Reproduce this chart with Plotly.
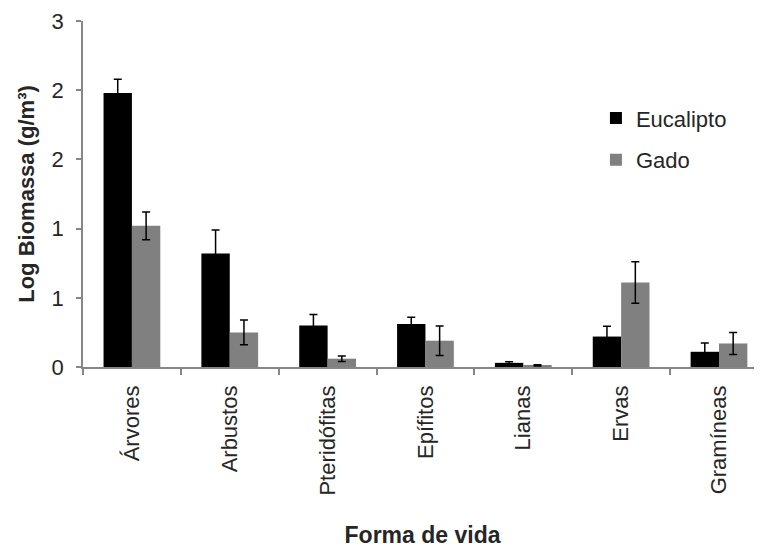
import plotly.graph_objects as go

categories = ["Árvores", "Arbustos", "Pteridófitas", "Epífitos", "Lianas", "Ervas", "Gramíneas"]
eucalipto = [1.98, 0.82, 0.30, 0.31, 0.03, 0.22, 0.11]
eucalipto_err = [0.10, 0.17, 0.08, 0.05, 0.008, 0.075, 0.063]
gado = [1.02, 0.25, 0.06, 0.19, 0.012, 0.61, 0.17]
gado_err = [0.10, 0.09, 0.02, 0.107, 0.004, 0.15, 0.08]
y_tickvals = [0, 0.5, 1.0, 1.5, 2.0, 2.5]
y_ticktext = ["0", "1", "1", "2", "2", "3"]

FONT = "Liberation Sans, Arial, sans-serif"
TXT = "#262626"
AX = "#868686"
W, H = 762, 548
OFF = 8  # page body margin offset
L = 83.3 - OFF
T = 20.5 - OFF
plot_bottom = 367.5 - OFF
B = H - plot_bottom
R = OFF
plot_w = W - R - L
plot_h = plot_bottom - T
cat_w = 97.8
xmax = -0.5 + plot_w / cat_w

fig = go.Figure()
fig.add_trace(go.Bar(
    name="Eucalipto", x=categories, y=eucalipto, legendgroup="e",
    marker=dict(color="#000000", line=dict(width=0)),
    error_y=dict(type="data", array=eucalipto_err, color="#000000", thickness=1.5, width=4),
))
fig.add_trace(go.Bar(
    name="Gado", x=categories, y=gado, legendgroup="g",
    marker=dict(color="#808080", line=dict(width=0)),
    error_y=dict(type="data", array=gado_err, color="#000000", thickness=1.5, width=4),
))

legend_left = 596 - OFF
legend_top = 97 - OFF

fig.update_layout(
    width=W, height=H,
    margin=dict(l=L, r=R, t=T, b=B, pad=0, autoexpand=False),
    paper_bgcolor="white", plot_bgcolor="white",
    barmode="group", bargap=0.42, bargroupgap=0,
    font=dict(family=FONT, color=TXT),
    showlegend=True,
    legend=dict(
        x=(legend_left - L) / plot_w, y=(plot_bottom - legend_top) / plot_h,
        xanchor="left", yanchor="top",
        font=dict(size=22, family=FONT, color=TXT),
        bgcolor="rgba(0,0,0,0)", itemwidth=30, tracegroupgap=10,
    ),
    xaxis=dict(
        type="category", range=[-0.5, xmax],
        showline=True, linecolor=AX, linewidth=1.5,
        ticks="outside", tickson="boundaries", ticklen=6, tickcolor=AX, tickwidth=1.5,
        tickangle=-90, tickfont=dict(size=22, family=FONT, color=TXT),
        ticklabelstandoff=8,
        showgrid=False, zeroline=False, automargin=False,
        title=dict(text="<b>Forma de vida</b>", font=dict(size=23, family=FONT, color=TXT), standoff=32),
    ),
    yaxis=dict(
        range=[0, 2.5], tickmode="array", tickvals=y_tickvals, ticktext=y_ticktext,
        showline=True, linecolor=AX, linewidth=1.5,
        ticks="outside", ticklen=5, tickcolor=AX, tickwidth=1.5,
        tickfont=dict(size=22, family=FONT, color=TXT),
        ticklabelstandoff=8,
        showgrid=False, zeroline=False, automargin=False,
        title=dict(text="<b>Log Biomassa (g/m³)</b>", font=dict(size=22, family=FONT, color=TXT), standoff=11),
    ),
)

fig.write_html("out.html")
